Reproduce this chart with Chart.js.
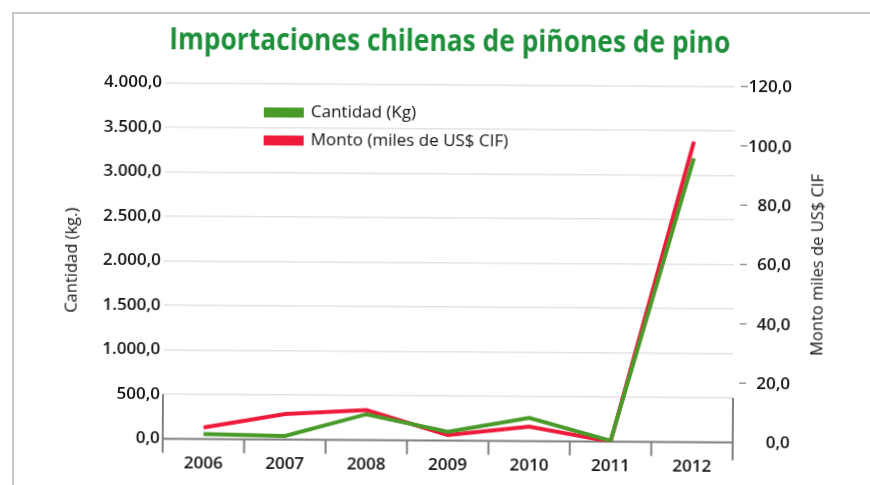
<!DOCTYPE html>
<html>
<head>
<meta charset="utf-8">
<script src="https://cdn.jsdelivr.net/npm/chart.js@4.4.1/dist/chart.umd.min.js"></script>
<style>
html,body{margin:0;padding:0;background:#fff;}
#wrap{position:relative;width:870px;height:485px;overflow:hidden;background:#fff;}
#frame{position:absolute;left:12px;top:12px;width:900px;height:500px;border-left:2px solid #c8c8c8;border-top:2px solid #c8c8c8;}
#c{position:absolute;left:0;top:0;transform:rotate(0.37deg);transform-origin:435px 242px;}
</style>
</head>
<body>
<div id="wrap">
  <div id="frame"></div>
  <canvas id="c" width="870" height="485"></canvas>
</div>
<script>
// ---- data ----
const years = ['2006', '2007', '2008', '2009', '2010', '2011', '2012'];
const cantidadKg = [55, 40, 290, 100, 260, 10, 3190];
const montoMilesUSD = [3.9, 8.6, 10.1, 1.9, 4.9, 0, 101.3];
const leftTickStep = 500;
const leftMax = 4000;
const rightTickStep = 20;
const rightMax = 120;
const chartTitle = 'Importaciones chilenas de piñones de pino';
const seriesLabels = ['Cantidad (Kg)', 'Monto (miles de US$ CIF)'];
const leftAxisTitle = 'Cantidad (kg.)';
const rightAxisTitle = 'Monto miles de US$ CIF';

// ---- style ----
const GREEN = '#4a9a2a';
const RED = '#ee1a3a';
const TITLE_GREEN = '#1d8f3a';
const INK = '#141414';
const AXIS = '#808080';
const TICK_FONT = {family: 'Open Sans', weight: '600', size: 17};

function fmt(v) {
  const parts = Number(v).toFixed(1).split('.');
  return parts[0].replace(/\B(?=(\d{3})+(?!\d))/g, '.') + ',' + parts[1];
}

const decor = {
  id: 'decor',
  beforeDatasetsDraw(chart) {
    const {ctx, chartArea: a, scales} = chart;
    const x = scales.x, y = scales.y, y1 = scales.y1;
    const y0 = y.getPixelForValue(0);
    const y500 = y.getPixelForValue(leftTickStep);
    ctx.save();
    ctx.strokeStyle = AXIS;
    ctx.lineWidth = 2;
    const seg = (x1, yA, x2, yB) => { ctx.beginPath(); ctx.moveTo(x1, yA); ctx.lineTo(x2, yB); ctx.stroke(); };
    seg(a.left, y0, a.right, y0);
    seg(a.left, y500, a.left, y0 + 14);
    seg(a.right, y500, a.right, y0 + 18);
    for (let i = 1; i < years.length; i++) {
      const px = (x.getPixelForValue(i - 1) + x.getPixelForValue(i)) / 2;
      seg(px, y0, px, y0 + 14);
    }
    // right axis dashes + labels
    ctx.strokeStyle = '#9a9a9a';
    ctx.lineWidth = 1.5;
    ctx.fillStyle = INK;
    ctx.font = '600 17px "Open Sans"';
    ctx.textAlign = 'right';
    ctx.textBaseline = 'middle';
    y1.ticks.forEach(t => {
      const py = y1.getPixelForValue(t.value);
      if (t.value > 0) seg(a.right + 6, py, a.right + 13, py);
      ctx.fillText(fmt(t.value), a.right + 57, py + 1);
    });
    // right axis title (reads bottom to top)
    ctx.save();
    ctx.translate(a.right + 84, (a.top + a.bottom) / 2);
    ctx.rotate(-Math.PI / 2);
    ctx.font = '16.5px "Open Sans"';
    ctx.textAlign = 'center';
    ctx.fillText(rightAxisTitle, 0, 0);
    ctx.restore();
    // legend
    const colors = [GREEN, RED];
    ctx.font = '17px "Open Sans"';
    ctx.textAlign = 'left';
    chart.data.datasets.forEach((ds, i) => {
      const cy = a.top + 29 + i * 28;
      ctx.fillStyle = colors[i];
      ctx.fillRect(a.left + 99, cy - 5, 40, 10);
      ctx.fillStyle = INK;
      ctx.fillText(ds.label, a.left + 146, cy);
    });
    ctx.restore();
  },
  afterDraw(chart) {
    // condensed bold title, centred over the page
    const ctx = chart.ctx;
    ctx.save();
    ctx.font = 'bold 30px "Open Sans"';
    ctx.fillStyle = TITLE_GREEN;
    ctx.textAlign = 'center';
    ctx.textBaseline = 'alphabetic';
    const w = ctx.measureText(chartTitle).width;
    const sx = 561 / w;
    ctx.translate(448.5, 51);
    ctx.scale(sx, 1);
    ctx.fillText(chartTitle, 0, 0);
    ctx.restore();
  }
};

new Chart(document.getElementById('c'), {
  type: 'line',
  data: {
    labels: years,
    datasets: [
      {label: seriesLabels[0], data: cantidadKg, yAxisID: 'y', borderColor: GREEN, backgroundColor: GREEN,
       borderWidth: 4, pointRadius: 0, tension: 0, fill: false},
      {label: seriesLabels[1], data: montoMilesUSD, yAxisID: 'y1', borderColor: RED, backgroundColor: RED,
       borderWidth: 4, pointRadius: 0, tension: 0, fill: false}
    ]
  },
  options: {
    responsive: false,
    animation: false,
    devicePixelRatio: 1,
    layout: {padding: {left: 24, right: 0, top: 84.5, bottom: 0}},
    plugins: {
      legend: {display: false},
      tooltip: {enabled: false},
      title: {display: false}
    },
    scales: {
      x: {
        offset: true,
        grid: {display: false, drawTicks: false},
        border: {display: false},
        ticks: {padding: 14, color: INK, font: TICK_FONT, maxRotation: 0},
        afterFit(s) { s.height = 44.5; }
      },
      y: {
        position: 'left', min: 0, max: leftMax,
        ticks: {stepSize: leftTickStep, padding: 3, color: INK, font: TICK_FONT, callback: v => fmt(v)},
        grid: {color: '#e3e3e3', lineWidth: 1.5, drawTicks: false},
        border: {display: false},
        title: {display: true, text: leftAxisTitle, color: INK, font: {family: 'Open Sans', size: 16.5}, padding: {top: 38, bottom: 0}},
        afterFit(s) { s.width = 140; }
      },
      y1: {
        position: 'right', min: 0, max: rightMax,
        ticks: {display: false, stepSize: rightTickStep},
        grid: {display: false, drawTicks: false},
        border: {display: false},
        afterFit(s) { s.width = 136; }
      }
    }
  },
  plugins: [decor]
});
</script>
</body>
</html>
